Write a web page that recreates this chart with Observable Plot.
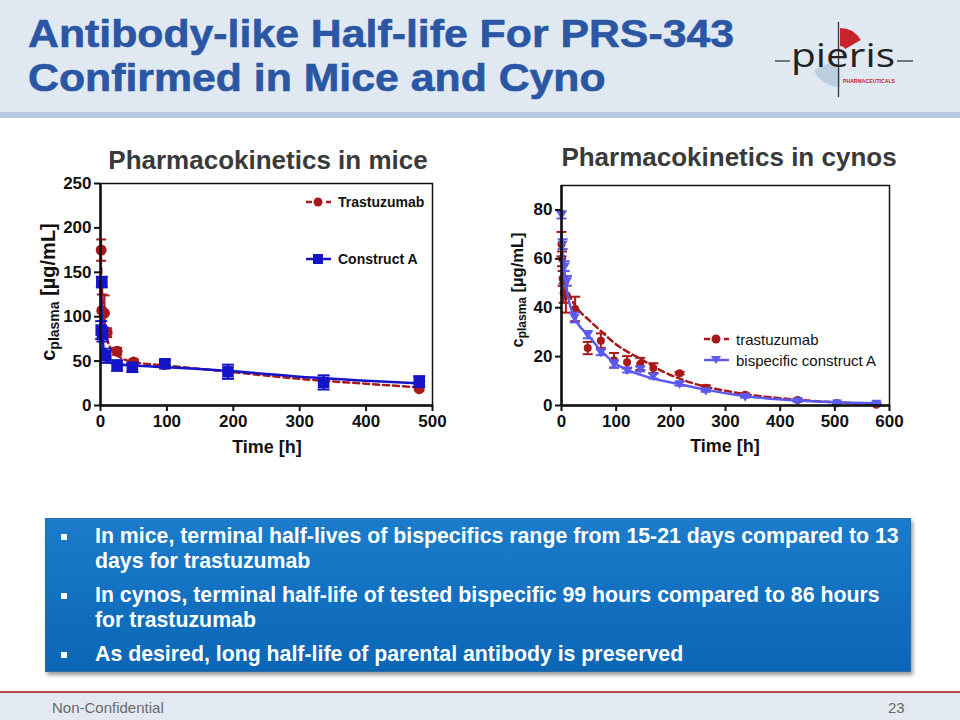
<!DOCTYPE html>
<html><head><meta charset="utf-8">
<script src="https://cdn.jsdelivr.net/npm/d3@7"></script>
<script src="https://cdn.jsdelivr.net/npm/@observablehq/plot@0.6"></script>
<style>
html,body{margin:0;padding:0;}
body{width:960px;height:720px;position:relative;overflow:hidden;background:#fff;font-family:"Liberation Sans",Arial,sans-serif;}
.abs{position:absolute;}
#header{left:0;top:0;width:960px;height:112px;background:#e0e9f2;}
#band{left:0;top:112px;width:960px;height:6px;background:#b7cadd;}
.title{left:28px;top:12px;font-family:"Liberation Sans",Arial,sans-serif;font-weight:bold;font-size:39px;line-height:44px;color:#2a56a3;white-space:nowrap;transform:scaleX(1.097);transform-origin:0 0;-webkit-text-stroke:0.6px #2a56a3;}
.ctitle{font-weight:bold;font-size:26px;color:#3a3a3a;white-space:nowrap;transform:translate(-50%,-50%);}
.ylab{font-weight:bold;font-size:20px;color:#111;white-space:nowrap;transform:translate(-50%,-50%) rotate(-90deg);}
.ylab sub{font-size:14px;vertical-align:-4px;}
.ylab.small{font-size:16.5px;}
.ylab.small sub{font-size:12px;vertical-align:-3px;}
.xlab{font-weight:bold;font-size:18px;color:#111;white-space:nowrap;transform:translate(-50%,-50%);}
.leg{font-size:13px;color:#111;white-space:nowrap;transform:translateY(-50%);}
#box{left:45px;top:518px;width:864px;height:152px;background:linear-gradient(#1b7ccb,#0b66b6);border:1px solid #2c6aa8;box-shadow:2px 3px 4px rgba(0,0,0,0.4);}
.bul{left:95px;width:806px;font-family:"Liberation Sans",Arial,sans-serif;font-weight:bold;font-size:21.3px;line-height:25px;color:#fff;}
.sq{width:6px;height:6px;background:#fff;}
#fline{left:0;top:691px;width:960px;height:2px;background:#b8484a;}
#footer{left:0;top:693px;width:960px;height:27px;background:#e2e9f0;}
.foot{font-family:"Liberation Sans",Arial,sans-serif;font-size:15px;color:#6a6a6a;transform:translateY(-50%);}
</style></head>
<body>
<div id="header" class="abs"></div>
<div id="band" class="abs"></div>
<div class="abs title">Antibody-like Half-life For PRS-343<br>Confirmed in Mice and Cyno</div>
<svg id="logo" class="abs" style="left:0;top:0" width="960" height="112"></svg>

<div class="abs ctitle" style="left:268px;top:160px">Pharmacokinetics in mice</div>
<div class="abs ctitle" style="left:729px;top:157px">Pharmacokinetics in cynos</div>

<div id="plotL" class="abs" style="left:40px;top:175px"></div>
<div id="plotR" class="abs" style="left:500px;top:177px"></div>

<div class="abs ylab" style="left:49px;top:292px">c<sub>plasma</sub> [µg/mL]</div>
<div class="abs ylab small" style="left:518px;top:290px">c<sub>plasma</sub> [µg/mL]</div>
<div class="abs xlab" style="left:267px;top:447px">Time [h]</div>
<div class="abs xlab" style="left:725px;top:446px">Time [h]</div>

<div id="legL" class="abs" style="left:0;top:0"></div>

<div id="box" class="abs"></div>
<div class="abs sq" style="left:61px;top:534px"></div>
<div class="abs bul" style="top:524px">In mice, terminal half-lives of bispecifics range from 15-21 days compared to 13 days for trastuzumab</div>
<div class="abs sq" style="left:61px;top:593px"></div>
<div class="abs bul" style="top:583px">In cynos, terminal half-life of tested bispecific 99 hours compared to 86 hours for trastuzumab</div>
<div class="abs sq" style="left:61px;top:652px"></div>
<div class="abs bul" style="top:642px">As desired, long half-life of parental antibody is preserved</div>

<div id="fline" class="abs"></div>
<div id="footer" class="abs"></div>
<div class="abs foot" style="left:52px;top:707px">Non-Confidential</div>
<div class="abs foot" style="left:888px;top:707px">23</div>

<script>
// ---------- Mice data ----------
const miceTrastT   = [1, 2, 6, 10, 25, 50, 96, 192, 336, 480];
const miceTrastV   = [175, 107, 104, 82, 61, 49, 46, 38, 26, 19];
const miceTrastE   = [12, 18, 20, 5, 4, 3, 3, 4, 3, 2];
const miceConstT   = [2, 1, 3, 8, 25, 48, 97, 192, 336, 480];
const miceConstV   = [139, 85, 80, 56, 45, 43, 47, 38, 26, 27];
const miceConstE   = [6, 10, 8, 8, 6, 5, 4, 8, 8, 6];
const miceTrastFitT = [0, 2, 5, 10, 20, 30, 50, 100, 200, 300, 400, 480];
const miceTrastFitV = [178, 135, 100, 75, 60, 54, 49, 45, 37.5, 30, 24.5, 20.5];
const miceConstFitT = [0, 2, 5, 10, 20, 50, 100, 200, 300, 400, 480];
const miceConstFitV = [140, 95, 62, 50, 47, 45, 43, 38.5, 32.5, 28, 25];
const miceXTicks = [0, 100, 200, 300, 400, 500];
const miceYTicks = [0, 50, 100, 150, 200, 250];

// ---------- Cyno data ----------
const cynoTrastT = [0, 1, 2, 4, 8, 25, 48, 72, 96, 120, 144, 168, 216, 264, 336, 432, 504, 576];
const cynoTrastV = [66, 60, 52, 46, 45, 39.5, 23.5, 26.5, 18.5, 17.7, 17, 15.3, 13.2, 7.3, 4.4, 2.2, 1.0, 0.3];
const cynoTrastE = [5, 3, 3, 4, 7, 5, 2.5, 3, 3, 2.5, 2.5, 2, 0.5, 1, 0.5, 0.5, 0.3, 0.2];
const cynoBispT  = [0, 2, 6, 10, 24, 48, 72, 96, 120, 144, 168, 216, 264, 336, 432, 504, 576];
const cynoBispV  = [78, 66, 57, 51, 36, 29, 21.8, 17, 14.5, 15, 12, 8.9, 6.1, 3.7, 2, 1.1, 1];
const cynoBispE  = [1.5, 2, 2, 2, 2, 1.5, 1.2, 1.5, 1, 1, 1, 0.8, 0.5, 0.5, 0.4, 0.3, 0.3];
const cynoTrastFitT = [0, 5, 15, 28, 50, 72, 100, 145, 194, 242, 300, 350, 400, 450, 500, 580];
const cynoTrastFitV = [62, 52, 45, 40, 35, 30.5, 25, 19, 13, 9, 6, 4.2, 3, 2, 1.3, 0.6];
const cynoBispFitT  = [0, 4, 10, 24, 48, 72, 100, 145, 218, 266, 338, 434, 500, 578];
const cynoBispFitV  = [70, 58, 47, 36, 29, 22.5, 17, 12.5, 8.6, 6.4, 3.8, 2, 1.3, 0.9];
const cynoXTicks = [0, 100, 200, 300, 400, 500, 600];
const cynoYTicks = [0, 20, 40, 60, 80];

const RED = "#a81a1a", BLUE = "#1414c8", LBLUE = "#5a5af0";

const pts = (T, V, E) => T.map((t, i) => ({t, v: V[i], lo: V[i] - (E ? E[i] : 0), hi: V[i] + (E ? E[i] : 0)}));
const cap = w => ({draw(ctx){ ctx.moveTo(-w, 0); ctx.lineTo(w, 0); }});
const downTri = {draw(ctx, size){ const r = Math.sqrt(size / Math.PI);
  ctx.moveTo(-r * 1.25, -r * 0.85); ctx.lineTo(r * 1.25, -r * 0.85); ctx.lineTo(0, r * 1.3); ctx.closePath(); }};

function seriesMarks(data, fit, color, opts) {
  return [
    Plot.line(fit, {x: "t", y: "v", stroke: color, strokeWidth: 2.5, curve: "monotone-x", strokeDasharray: opts.dash || null}),
    Plot.ruleX(data, {x: "t", y1: "lo", y2: "hi", stroke: color, strokeWidth: 2}),
    Plot.dot(data, {x: "t", y: "hi", symbol: cap(opts.cap), stroke: color, strokeWidth: 2, fill: "none"}),
    Plot.dot(data, {x: "t", y: "lo", symbol: cap(opts.cap), stroke: color, strokeWidth: 2, fill: "none"}),
    Plot.dot(data, {x: "t", y: "v", symbol: opts.symbol, r: opts.r, fill: color, stroke: "none"})
  ];
}

function makePlot(cfg) {
  return Plot.plot({
    width: cfg.width, height: cfg.height,
    marginLeft: cfg.ml, marginRight: cfg.mr, marginTop: cfg.mt, marginBottom: cfg.mb,
    style: {background: "transparent", fontFamily: "'Liberation Sans', Arial, sans-serif", fontSize: "17px", fontWeight: "bold", color: "#111", overflow: "visible"},
    x: {domain: cfg.xd},
    y: {domain: cfg.yd},
    marks: [
      ...cfg.marks,
      Plot.frame({stroke: "#111", strokeWidth: 1.5}),
      Plot.axisX({ticks: cfg.xt, tickSize: 6, tickPadding: 3, strokeWidth: 2, label: null}),
      Plot.axisY({ticks: cfg.yt, tickSize: 6, tickPadding: 3, strokeWidth: 2, label: null}),
      Plot.ruleX([cfg.xd[0]], {stroke: "#111", strokeWidth: 2.5}),
      Plot.ruleY([cfg.yd[0]], {stroke: "#111", strokeWidth: 2.5})
    ]
  });
}

const L = makePlot({
  width: 410, height: 290, ml: 60, mr: 18, mt: 8, mb: 60,
  xd: [0, 500], yd: [0, 250], xt: miceXTicks, yt: miceYTicks,
  marks: [
    ...seriesMarks(pts(miceTrastT, miceTrastV, miceTrastE), pts(miceTrastFitT, miceTrastFitV), RED, {dash: "6,4", cap: 5, symbol: "circle", r: 5.5}),
    ...seriesMarks(pts(miceConstT, miceConstV, miceConstE), pts(miceConstFitT, miceConstFitV), BLUE, {cap: 6, symbol: "square", r: 6.5})
  ]
});
document.getElementById("plotL").appendChild(L);

const R = makePlot({
  width: 420, height: 290, ml: 61, mr: 31, mt: 8, mb: 62,
  xd: [0, 600], yd: [0, 90], xt: cynoXTicks, yt: cynoYTicks,
  marks: [
    ...seriesMarks(pts(cynoTrastT, cynoTrastV, cynoTrastE), pts(cynoTrastFitT, cynoTrastFitV), RED, {dash: "6,4", cap: 5, symbol: "circle", r: 4}),
    ...seriesMarks(pts(cynoBispT, cynoBispV, cynoBispE), pts(cynoBispFitT, cynoBispFitV), LBLUE, {cap: 5, symbol: downTri, r: 4})
  ]
});
document.getElementById("plotR").appendChild(R);

// ---------- Legends ----------
const legends = [
  {x: 305, y: 202, color: RED, dash: "6,4", sym: "circle", label: "Trastuzumab", size: 14, weight: "bold"},
  {x: 305, y: 259, color: BLUE, dash: null, sym: "square", label: "Construct A", size: 14, weight: "bold"},
  {x: 703, y: 339, color: RED, dash: "6,4", sym: "circle", label: "trastuzumab", size: 15, weight: "normal"},
  {x: 703, y: 360, color: LBLUE, dash: null, sym: "tri", label: "bispecific construct A", size: 15, weight: "normal"}
];
const legHost = document.getElementById("legL");
legends.forEach(l => {
  const svg = d3.create("svg").attr("width", 30).attr("height", 16)
    .style("position", "absolute").style("left", l.x + "px").style("top", (l.y - 8) + "px");
  svg.append("line").attr("x1", 1).attr("x2", 26).attr("y1", 8).attr("y2", 8)
    .attr("stroke", l.color).attr("stroke-width", 2.5).attr("stroke-dasharray", l.dash);
  if (l.sym === "circle") svg.append("circle").attr("cx", 13).attr("cy", 8).attr("r", 4.5).attr("fill", l.color);
  else if (l.sym === "square") svg.append("rect").attr("x", 8).attr("y", 3).attr("width", 10).attr("height", 10).attr("fill", l.color);
  else svg.append("path").attr("d", "M8,4 L18,4 L13,12 Z").attr("fill", l.color);
  legHost.appendChild(svg.node());
  const t = document.createElement("div");
  t.className = "abs leg";
  t.style.left = (l.x + 33) + "px"; t.style.top = l.y + "px";
  t.style.fontSize = l.size + "px"; t.style.fontWeight = l.weight;
  t.textContent = l.label;
  legHost.appendChild(t);
});

// ---------- Logo ----------
const logo = d3.select("#logo");
const arc = d3.arc();
logo.append("path").attr("transform", "translate(840,52)")
  .attr("d", arc({innerRadius: 6, outerRadius: 24, startAngle: 0, endAngle: 60 * Math.PI / 180})).attr("fill", "#c8232c");
logo.append("path").attr("transform", "translate(840,58)")
  .attr("d", arc({innerRadius: 10, outerRadius: 29, startAngle: Math.PI, endAngle: 245 * Math.PI / 180})).attr("fill", "#bccfe0");
logo.append("line").attr("x1", 838.5).attr("x2", 838.5).attr("y1", 22).attr("y2", 97).attr("stroke", "#333").attr("stroke-width", 1.3);
logo.append("line").attr("x1", 775).attr("x2", 790).attr("y1", 61).attr("y2", 61).attr("stroke", "#333").attr("stroke-width", 1.3);
logo.append("line").attr("x1", 897).attr("x2", 913).attr("y1", 61).attr("y2", 61).attr("stroke", "#333").attr("stroke-width", 1.3);
logo.append("text").attr("x", 791).attr("y", 67).attr("font-family", "'Open Sans', 'DejaVu Sans', sans-serif")
  .attr("font-size", 33).attr("font-weight", 400).attr("fill", "#222").attr("textLength", 104).attr("lengthAdjust", "spacingAndGlyphs").text("pieris");
logo.append("text").attr("x", 843).attr("y", 83).attr("font-family", "'Liberation Sans', Arial, sans-serif")
  .attr("font-size", 5).attr("font-weight", "bold").attr("fill", "#c8232c").attr("textLength", 52).attr("lengthAdjust", "spacingAndGlyphs").text("PHARMACEUTICALS");
</script>
</body></html>
